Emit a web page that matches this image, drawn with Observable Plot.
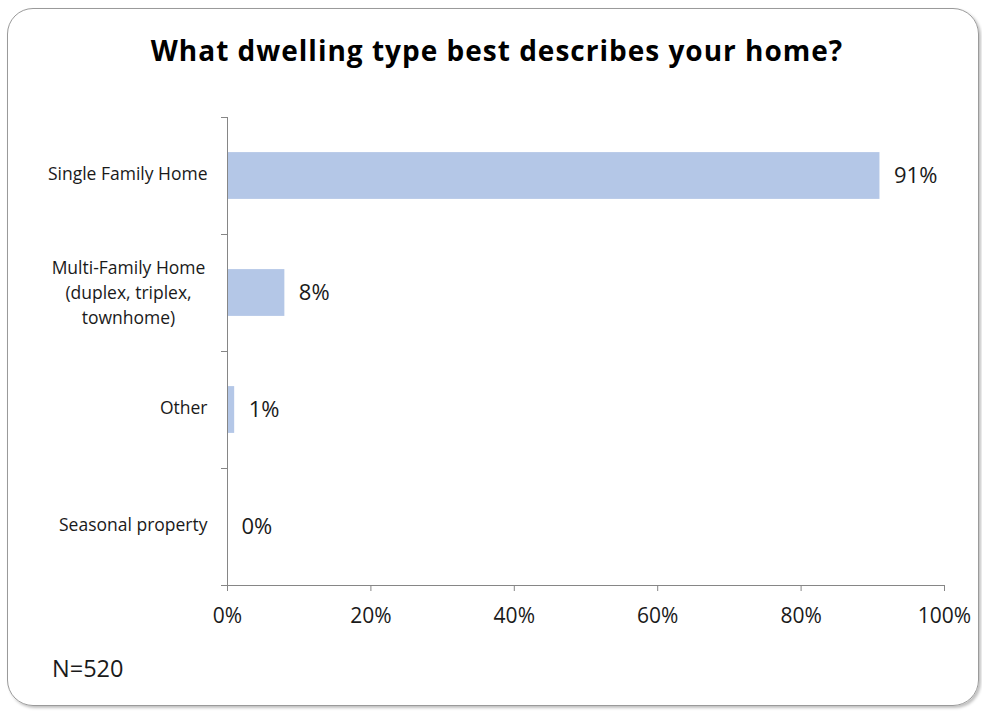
<!DOCTYPE html>
<html>
<head>
<meta charset="utf-8">
<script src="https://cdn.jsdelivr.net/npm/d3@7"></script>
<script src="https://cdn.jsdelivr.net/npm/@observablehq/plot@0.6"></script>
<style>
  html, body { margin: 0; padding: 0; background: #fff; }
  #wrap { position: relative; width: 982px; height: 711px; overflow: hidden; font-family: "Open Sans", Lato, sans-serif; }
  #frame { position: absolute; left: 7px; top: 8px; width: 970px; height: 696px; border: 1.5px solid #9a9a9a; border-radius: 26px; box-shadow: 2px 2px 3px rgba(0,0,0,0.25); }
  #title { position: absolute; left: 0; top: 31px; width: 994px; text-align: center; font-weight: bold; font-size: 28px; letter-spacing: 1px; color: #000; }
  #chart { position: absolute; left: 0; top: 100px; }
  #caption { position: absolute; left: 52px; top: 652px; font-size: 23.5px; color: #1a1a1a; }
</style>
</head>
<body>
<div id="wrap">
  <div id="frame"></div>
  <div id="title">What dwelling type best describes your home?</div>
  <div id="chart"></div>
  <div id="caption">N=520</div>
</div>
<script>
const categories = ["Single Family Home", "Multi-Family Home\n(duplex, triplex,\ntownhome)", "Other", "Seasonal property"];
const values = [91, 8, 1, 0];
const valueLabels = ["91%", "8%", "1%", "0%"];
const xTicks = [0, 20, 40, 60, 80, 100];
const bandEdges = [0, 1, 2, 3, 4];

const data = categories.map((c, i) => ({category: c, value: values[i], label: valueLabels[i], idx: i}));
const axisColor = "#868686";
const textColor = "#1a1a1a";

const chart = Plot.plot({
  width: 982,
  height: 540,
  marginLeft: 227,
  marginRight: 38,
  marginTop: 17,
  marginBottom: 55,
  style: {fontFamily: "'Open Sans', Lato, sans-serif", background: "transparent", color: textColor},
  x: {domain: [0, 100], label: null},
  y: {domain: [0, 4], reverse: true, axis: null},
  marks: [
    Plot.rect(data, {x1: 0, x2: "value", y1: d => d.idx + 0.3, y2: d => d.idx + 0.7, fill: "#b4c7e7"}),
    Plot.ruleX([0], {y1: 0, y2: 4, stroke: axisColor}),
    Plot.ruleY([4], {x1: 0, x2: 100, stroke: axisColor}),
    Plot.axisY(bandEdges, {tickSize: 6, tickFormat: () => "", stroke: axisColor, label: null}),
    Plot.axisX(xTicks, {tickSize: 6, tickPadding: 17, tickFormat: d => d + "%", fontSize: 21, stroke: axisColor, fill: textColor, label: null}),
    Plot.text(data.filter(d => !d.category.includes("\n")), {x: 0, y: d => d.idx + 0.5, text: "category", textAnchor: "end", dx: -20, dy: -2, fontSize: 17.5, fill: textColor}),
    Plot.text(data.filter(d => d.category.includes("\n")), {x: 0, y: d => d.idx + 0.5, text: "category", textAnchor: "middle", dx: -99, dy: -2, fontSize: 17.5, lineHeight: 1.45, fill: textColor}),
    Plot.text(data, {x: "value", y: d => d.idx + 0.5, text: "label", textAnchor: "start", dx: 14, fontSize: 22, fill: textColor})
  ]
});
document.getElementById("chart").appendChild(chart);
</script>
</body>
</html>
